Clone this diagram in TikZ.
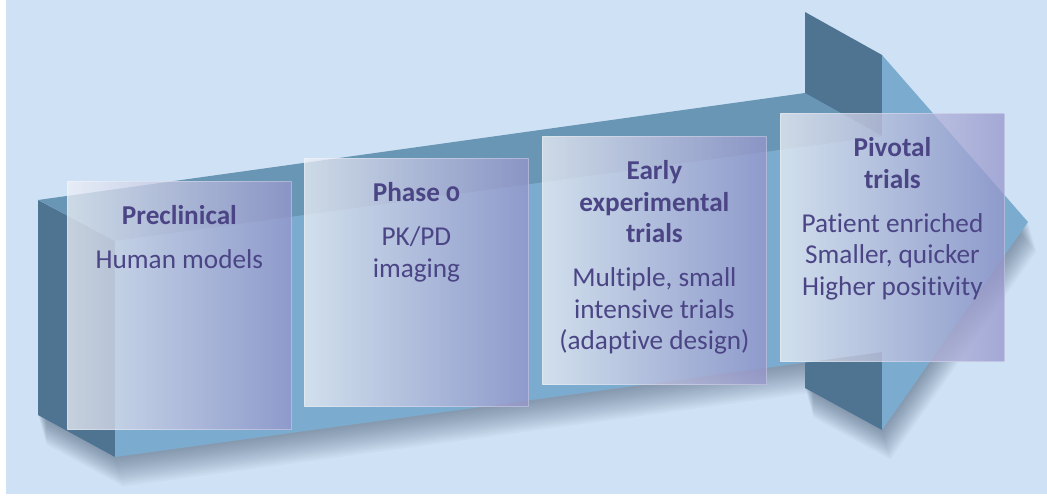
\documentclass[tikz,border=0pt]{standalone}
\usepackage{fontspec}
\setmainfont{Carlito}[Numbers=OldStyle,Ligatures=NoCommon]
\usetikzlibrary{positioning}

\definecolor{bgblue}{RGB}{207,226,245}
\definecolor{shadeblue}{RGB}{50,70,95}
\definecolor{sidedark}{RGB}{79,116,146}
\definecolor{topmid}{RGB}{106,150,181}
\definecolor{frontblue}{RGB}{123,172,207}
\definecolor{paneleft}{RGB}{238,241,247}
\definecolor{paneright}{RGB}{149,149,203}
\definecolor{txtpurple}{RGB}{75,69,133}

\begin{document}
\begin{tikzpicture}[x=0.02cm,y=-0.02cm,
  pane/.style={anchor=north west,inner sep=0pt,minimum width=4.48cm,minimum height=4.96cm,
    left color=paneleft,right color=paneright,fill opacity=0.75,
    draw=white,draw opacity=0.3,line width=0.5pt},
  label/.style={anchor=north,inner sep=0pt,align=center,text=txtpurple,
    font=\fontsize{15.5}{18}\selectfont}]
  \useasboundingbox (0,0) rectangle (1047,496);
  % page
  \fill[white] (0,0) rectangle (1047,496);
  \fill[bgblue] (6,0) rectangle (1047,494);

  % soft shadow under the arrow
  \foreach \s in {1,...,14}
    \fill[shadeblue,opacity=0.04,shift={(0.6*\s,2.1*\s)}]
      (38,200) -- (805,93) -- (805,12) -- (882,55) -- (1028,222) -- (882,430)
      -- (805,388) -- (805,363) -- (115,457) -- (38,415) -- cycle;

  % arrow body
  \fill[sidedark] (38,200) -- (115,241) -- (115,457) -- (38,415) -- cycle;
  \fill[sidedark] (805,12) -- (882,55) -- (882,430) -- (805,388) -- cycle;
  \fill[topmid] (38,200) -- (805,93) -- (882,136) -- (115,241) -- cycle;
  \fill[frontblue] (115,241) -- (882,136) -- (882,55) -- (1028,222)
    -- (882,430) -- (882,352) -- (115,457) -- cycle;

  % stage panes
  \node[pane] (pre) at (67,181) {};
  \node[pane] (ph0) at (304,158) {};
  \node[pane] (early) at (542,136) {};
  \node[pane] (piv) at (780,113) {};

  \node[label,below=0.48cm of pre.north] (pre-txt)
    {\textbf{Preclinical}\\[7pt] Human models};
  \node[label,below=0.48cm of ph0.north] (ph0-txt)
    {\textbf{Phase 0}\\[7pt] PK/PD\\ imaging};
  \node[label,below=0.48cm of early.north] (early-txt)
    {\textbf{Early}\\ \textbf{experimental}\\ \textbf{trials}\\[7pt]
     Multiple, small\\ intensive trials\\ (adaptive design)};
  \node[label,below=0.48cm of piv.north] (piv-txt)
    {\textbf{Pivotal}\\ \textbf{trials}\\[7pt]
     Patient enriched\\ Smaller, quicker\\ Higher positivity};
\end{tikzpicture}
\end{document}
